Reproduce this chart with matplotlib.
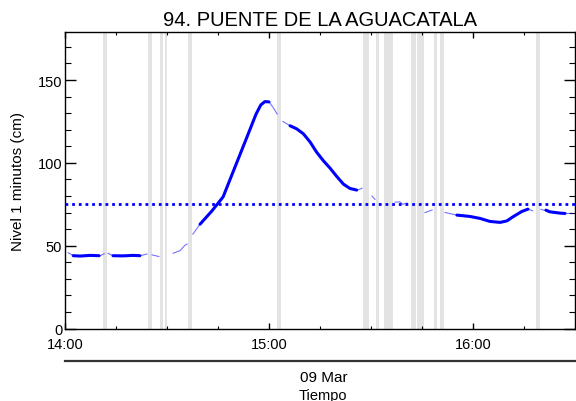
import matplotlib
matplotlib.use('Agg')
import matplotlib.pyplot as plt
import matplotlib.dates as mdates
from matplotlib.ticker import MultipleLocator
from matplotlib.lines import Line2D
import numpy as np
import pandas as pd

plt.rcParams['font.family'] = ['Liberation Sans', 'DejaVu Sans']

title = '94. PUENTE DE LA AGUACATALA'
ylabel = 'Nivel 1 minutos (cm)'
date_label = '09 Mar'
xlabel = 'Tiempo'
start = pd.Timestamp('2024-03-09 14:00')
threshold = 75

# nivel, minutos desde 14:00 (NaN = corte)
thin_min = [0.9, 2.1, 4.4, 7.4, 10.3, 11.5, np.nan,
            12.6, 14.1, 17.0, 20.0, 22.0, 24.1, np.nan,
            25.6, 26.6, 27.6, np.nan,
            31.8, 33.8, 35.3, 35.9, np.nan,
            37.6, 39.7, 43.2, 46.5, 50.0, 53.5, 56.2, 57.6, 58.8, 60.0, 61.2, 62.4, np.nan,
            64.1, 66.2, 68.1, 70.1, 72.1, 74.0, 76.0, 77.9, 79.9, 81.9, 83.8, 85.8, 86.8, 87.4, np.nan,
            90.3, 91.2, np.nan,
            97.1, 98.5, 99.4, 100.6, np.nan,
            105.9, 108.0, np.nan,
            111.8, 115.3, 119.1, 122.1, 125.0, 128.0, 130.0, 131.8, 134.4, 136.2, 137.6, np.nan,
            140.0, 142.6, 145.6, 147.1, 149.1]
thin_val = [45.8, 44.5, 43.8, 44.2, 44.0, 45.2, np.nan,
            45.5, 44.0, 43.9, 44.2, 44.0, 45.0, np.nan,
            44.5, 44.0, 43.5, np.nan,
            45.5, 47.0, 50.4, 51.0, np.nan,
            57.0, 63.0, 71.0, 79.5, 97.5, 115.5, 129.5, 135.0, 137.0, 136.8, 133.5, 129.5, np.nan,
            125.0, 122.4, 120.6, 117.6, 112.6, 106.5, 101.3, 97.0, 91.9, 87.2, 84.6, 83.6, 84.2, 84.8, np.nan,
            80.0, 78.0, np.nan,
            76.3, 76.5, 75.0, 75.8, np.nan,
            70.0, 71.6, np.nan,
            70.1, 68.5, 67.7, 66.5, 64.7, 64.1, 65.0, 67.5, 70.7, 72.1, 71.1, np.nan,
            72.0, 70.5, 69.7, 69.5, 69.5]

thick_min = [2.4, 4.4, 7.4, 10.0, np.nan,
             14.1, 17.0, 20.0, 22.0, np.nan,
             39.7, 43.2, 46.5, 50.0, 53.5, 56.2, 57.6, 58.8, 60.0, np.nan,
             66.2, 68.1, 70.1, 72.1, 74.0, 76.0, 77.9, 79.9, 81.9, 83.8, 85.8, np.nan,
             115.3, 119.1, 122.1, 125.0, 128.0, 130.0, 131.8, 134.4, 136.2, np.nan,
             141.5, 142.6, 145.6, 147.1]
thick_val = [44.0, 43.8, 44.2, 44.0, np.nan,
             44.0, 43.9, 44.2, 44.0, np.nan,
             63.0, 71.0, 79.5, 97.5, 115.5, 129.5, 135.0, 137.0, 136.8, np.nan,
             122.4, 120.6, 117.6, 112.6, 106.5, 101.3, 97.0, 91.9, 87.2, 84.6, 83.6, np.nan,
             68.5, 67.7, 66.5, 64.7, 64.1, 65.0, 67.5, 70.7, 72.1, np.nan,
             71.5, 70.5, 69.7, 69.5]

# periodos sin dato (minutos desde 14:00)
gap_start = [11.2, 24.4, 27.9, 29.4, 36.2, 62.4, 87.6, 91.5, 93.8, 101.8, 103.5, 108.5, 110.3, 138.5]
gap_end = [12.4, 25.6, 28.8, 30.0, 37.4, 63.5, 89.4, 92.4, 96.5, 103.2, 105.6, 109.4, 111.5, 139.7]

t0 = mdates.date2num(start)


def to_time(mins):
    # minutos -> numero de fecha de matplotlib (NaN se mantiene)
    return t0 + np.asarray(mins, dtype=float) / 1440.0


fig = plt.figure(figsize=(5.76, 4.02), dpi=100)
ax = fig.add_axes([0.113, 0.180, 0.885, 0.738])

for a, b in zip(to_time(gap_start), to_time(gap_end)):
    ax.axvspan(a, b, color='#e3e3e3', lw=0, zorder=0)

ax.plot(to_time(thin_min), thin_val, color='#0000ff', lw=0.8, alpha=0.55, zorder=2)
ax.plot(to_time(thick_min), thick_val, color='#0000ff', lw=2.2, solid_capstyle='round',
        solid_joinstyle='round', zorder=3)
ax.axhline(threshold, color='#0000ff', lw=2, linestyle=(0, (1, 1.4)), zorder=4)

ax.set_xlim(to_time([0])[0], to_time([150])[0])
ax.set_ylim(0, 179)
ax.xaxis.set_major_locator(mdates.HourLocator())
ax.xaxis.set_minor_locator(mdates.MinuteLocator(byminute=[15, 30, 45]))
ax.xaxis.set_major_formatter(mdates.DateFormatter('%H:%M'))
ax.yaxis.set_major_locator(MultipleLocator(50))
ax.yaxis.set_minor_locator(MultipleLocator(10))

ax.tick_params(axis='y', which='both', direction='in', left=True, right=True, labelsize=10.5, pad=2)
ax.tick_params(axis='y', which='major', length=8, width=1)
ax.tick_params(axis='y', which='minor', length=4.5, width=0.8)
ax.tick_params(axis='x', which='both', direction='in', top=True, bottom=True, labelsize=10.5, pad=6)
ax.tick_params(axis='x', which='major', length=4.5, width=1)
ax.tick_params(axis='x', which='minor', length=2.5, width=0.8)
for s in ax.spines.values():
    s.set_linewidth(1)

ax.set_title(title, fontsize=14.5, pad=5)
ax.set_ylabel(ylabel, fontsize=11, labelpad=9)

fig.add_artist(Line2D([0.113, 0.998], [0.0995, 0.0995], color='#333333', lw=1.6))
fig.text(0.5625, 0.060, date_label, ha='center', va='center', fontsize=11)
fig.text(0.560, 0.015, xlabel, ha='center', va='center', fontsize=10.5)

fig.savefig('out.png', dpi=100)
